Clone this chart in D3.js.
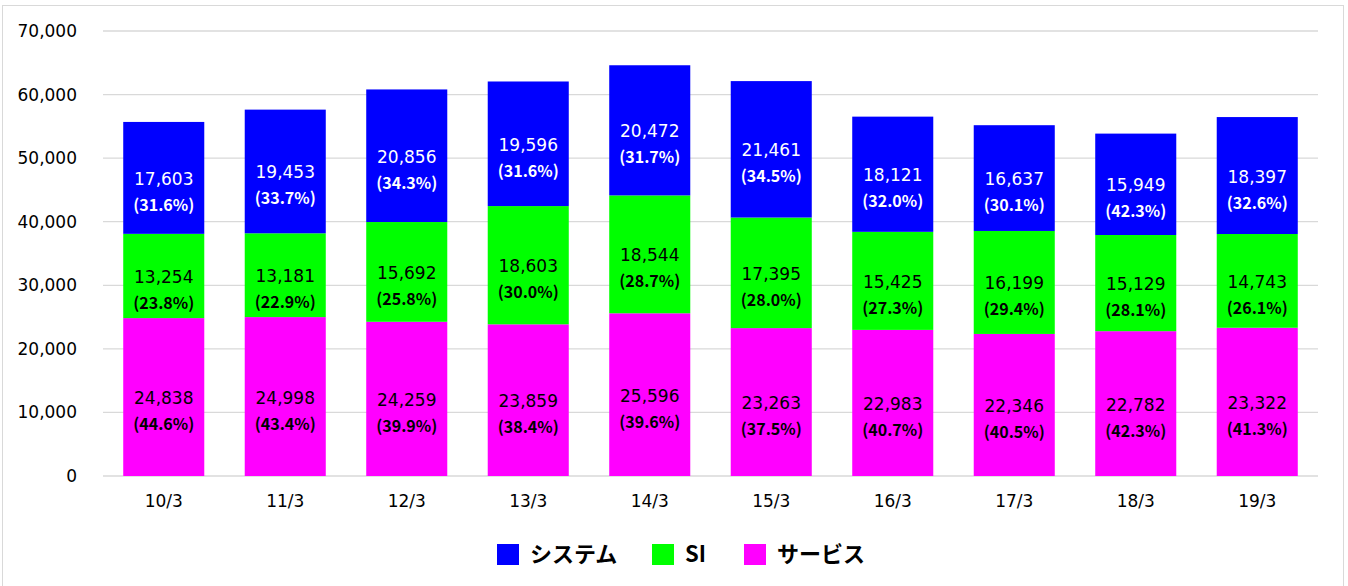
<!DOCTYPE html>
<html>
<head>
<meta charset="utf-8">
<script src="https://cdn.jsdelivr.net/npm/d3@7"></script>
<style>
  body { margin: 0; background: #fff; }
  svg { display: block; font-family: "Noto Sans CJK JP", "Noto Sans", sans-serif; }
</style>
</head>
<body>
<svg width="1348" height="586"></svg>
<script>
// Data
const categories = ['10/3', '11/3', '12/3', '13/3', '14/3', '15/3', '16/3', '17/3', '18/3', '19/3'];
const service = [24838, 24998, 24259, 23859, 25596, 23263, 22983, 22346, 22782, 23322];
const si = [13254, 13181, 15692, 18603, 18544, 17395, 15425, 16199, 15129, 14743];
const system = [17603, 19453, 20856, 19596, 20472, 21461, 18121, 16637, 15949, 18397];
const servicePct = ['44.6', '43.4', '39.9', '38.4', '39.6', '37.5', '40.7', '40.5', '42.3', '41.3'];
const siPct = ['23.8', '22.9', '25.8', '30.0', '28.7', '28.0', '27.3', '29.4', '28.1', '26.1'];
const systemPct = ['31.6', '33.7', '34.3', '31.6', '31.7', '34.5', '32.0', '30.1', '42.3', '32.6'];
const yTicks = [0, 10000, 20000, 30000, 40000, 50000, 60000, 70000];

const seriesList = [
  { key: 'service', name: 'サービス', values: service, pct: servicePct, color: '#ff00ff', text: '#000' },
  { key: 'si', name: 'SI', values: si, pct: siPct, color: '#00ff00', text: '#000' },
  { key: 'system', name: 'システム', values: system, pct: systemPct, color: '#0000ff', text: '#fff' }
];

const numFont = '"DejaVu Sans", sans-serif';

const svg = d3.select('svg');
const margin = { top: 31, right: 30, bottom: 110, left: 103 };
const width = 1348 - margin.left - margin.right;
const height = 586 - margin.top - margin.bottom;

// outer frame
svg.append('rect')
  .attr('x', 2.5).attr('y', 5.5)
  .attr('width', 1341).attr('height', 590)
  .attr('fill', 'none').attr('stroke', '#d9d9d9');

const g = svg.append('g')
  .attr('transform', 'translate(' + margin.left + ',' + margin.top + ')');

const x = d3.scaleBand().domain(categories).range([0, width]).paddingInner(0.333).paddingOuter(0.1665);
const y = d3.scaleLinear().domain([0, 70000]).range([height, 0]);

// stacked table
const table = categories.map((c, i) => {
  const row = { cat: c };
  seriesList.forEach((s) => { row[s.key] = s.values[i]; });
  return row;
});
const stacked = d3.stack().keys(seriesList.map((s) => s.key))(table);

// gridlines
g.append('g')
  .selectAll('line')
  .data(yTicks)
  .enter()
  .append('line')
  .attr('x1', 0).attr('x2', width)
  .attr('y1', (d) => y(d)).attr('y2', (d) => y(d))
  .attr('stroke', '#d9d9d9').attr('stroke-width', 1.3);

// y axis labels
const yAxis = g.append('g')
  .call(d3.axisLeft(y).tickValues(yTicks).tickFormat(d3.format(',')).tickSize(0).tickPadding(26));
yAxis.select('.domain').remove();
yAxis.selectAll('text').attr('font-size', 17).attr('fill', '#000').attr('font-family', numFont);

// x axis labels
const xAxis = g.append('g')
  .attr('transform', 'translate(0,' + height + ')')
  .call(d3.axisBottom(x).tickSize(0).tickPadding(19));
xAxis.select('.domain').remove();
xAxis.selectAll('text').attr('font-size', 17).attr('fill', '#000').attr('font-family', numFont);

// bars
stacked.forEach((layer, li) => {
  const s = seriesList[li];
  const lg = g.append('g');
  lg.selectAll('rect')
    .data(layer)
    .enter()
    .append('rect')
    .attr('x', (d) => x(d.data.cat))
    .attr('y', (d) => y(d[1]))
    .attr('width', x.bandwidth())
    .attr('height', (d) => y(d[0]) - y(d[1]))
    .attr('fill', s.color);

  lg.selectAll('text.val')
    .data(layer)
    .enter()
    .append('text')
    .attr('class', 'val')
    .attr('x', (d) => x(d.data.cat) + x.bandwidth() / 2)
    .attr('y', (d) => (y(d[0]) + y(d[1])) / 2 + 7)
    .attr('text-anchor', 'middle')
    .attr('font-size', 17)
    .attr('font-family', numFont)
    .attr('fill', s.text)
    .text((d, i) => d3.format(',')(s.values[i]));

  lg.selectAll('text.pct')
    .data(layer)
    .enter()
    .append('text')
    .attr('class', 'pct')
    .attr('x', (d) => x(d.data.cat) + x.bandwidth() / 2)
    .attr('y', (d) => (y(d[0]) + y(d[1])) / 2 + 33)
    .attr('text-anchor', 'middle')
    .attr('font-size', 16)
    .attr('font-weight', 'bold')
    .attr('fill', s.text)
    .text((d, i) => '(' + s.pct[i] + '%)');
});

// legend
const legendItems = [seriesList[2], seriesList[1], seriesList[0]];
const legendX = [497, 652, 744];
const legend = svg.append('g');
legendItems.forEach((s, i) => {
  legend.append('rect')
    .attr('x', legendX[i]).attr('y', 544)
    .attr('width', 22).attr('height', 21)
    .attr('fill', s.color);
  legend.append('text')
    .attr('x', legendX[i] + 33).attr('y', 562)
    .attr('font-size', 22).attr('font-weight', 'bold')
    .attr('fill', '#000')
    .text(s.name);
});
</script>
</body>
</html>
